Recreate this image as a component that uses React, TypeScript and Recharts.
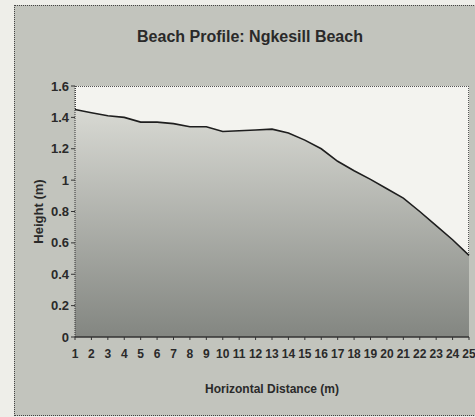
import { AreaChart, Area, XAxis, YAxis, Label } from "recharts";

// beach profile readings, 1 m apart
const distances = [
  1, 2, 3, 4, 5, 6, 7, 8, 9, 10, 11, 12, 13, 14, 15, 16, 17, 18, 19, 20, 21,
  22, 23, 24, 25,
];
const heights = [
  1.45, 1.43, 1.41, 1.4, 1.37, 1.37, 1.36, 1.34, 1.34, 1.31, 1.315, 1.32,
  1.325, 1.3, 1.255, 1.2, 1.12, 1.06, 1.005, 0.945, 0.885, 0.8, 0.71, 0.62,
  0.52,
];
const yTicks = [0, 0.2, 0.4, 0.6, 0.8, 1, 1.2, 1.4, 1.6];

const data = distances.map((d, i) => ({ distance: d, height: heights[i] }));

const FONT = "'Liberation Sans Narrow', 'Liberation Sans', Arial, sans-serif";

export default function App() {
  return (
    <div
      style={{
        position: "fixed",
        left: 0,
        top: 0,
        width: 475,
        height: 417,
        background: "#eeeee9",
        overflow: "hidden",
        fontFamily: FONT,
      }}
    >
      {/* chart frame */}
      <div
        style={{
          position: "absolute",
          left: 14,
          top: 5,
          width: 470,
          height: 409,
          background: "#c2c4bd",
          border: "1px dotted #444",
        }}
      />
      {/* plot area background */}
      <div
        style={{
          position: "absolute",
          left: 75,
          top: 86,
          width: 394,
          height: 251,
          background: "#f3f3ef",
          border: "1px dotted #555",
          boxSizing: "border-box",
        }}
      />
      <div
        style={{
          position: "absolute",
          left: 0,
          top: 28,
          width: 500,
          textAlign: "center",
          fontSize: 16,
          fontWeight: "bold",
          color: "#2a2a2a",
        }}
      >
        Beach Profile: Ngkesill Beach
      </div>
      <div style={{ position: "absolute", left: 0, top: 0 }}>
        <AreaChart
          width={475}
          height={417}
          data={data}
          margin={{ top: 86, right: 6, bottom: 50, left: 25 }}
        >
          <defs>
            <linearGradient id="sand" x1="0" y1="0" x2="0" y2="1">
              <stop offset="0%" stopColor="#d8d9d3" />
              <stop offset="100%" stopColor="#838681" />
            </linearGradient>
          </defs>
          <XAxis
            dataKey="distance"
            interval={0}
            tickLine={{ stroke: "#333" }}
            tickSize={3}
            tickMargin={9}
            axisLine={{ stroke: "#333", strokeWidth: 1.5 }}
            tick={{ fill: "#2a2a2a", fontSize: 12, fontWeight: "bold", fontFamily: FONT }}
            height={30}
          >
            <Label
              value="Horizontal Distance (m)"
              position="insideBottom"
              offset={-26}
              style={{ fill: "#2a2a2a", fontSize: 12, fontWeight: "bold", fontFamily: FONT }}
            />
          </XAxis>
          <YAxis
            domain={[0, 1.6]}
            ticks={yTicks}
            interval={0}
            tickSize={4}
            tickLine={{ stroke: "#333" }}
            axisLine={{ stroke: "#333", strokeDasharray: "1 1" }}
            tick={{ fill: "#2a2a2a", fontSize: 13, fontWeight: "bold", fontFamily: FONT }}
            width={50}
          >
            <Label
              value="Height (m)"
              angle={-90}
              position="insideLeft"
              offset={13}
              style={{
                textAnchor: "middle",
                fill: "#2a2a2a",
                fontSize: 13,
                fontWeight: "bold",
                fontFamily: FONT,
              }}
            />
          </YAxis>
          <Area
            type="linear"
            dataKey="height"
            stroke="#1e1e1e"
            strokeWidth={1.6}
            fill="url(#sand)"
            fillOpacity={1}
            baseValue={0}
            isAnimationActive={false}
          />
        </AreaChart>
      </div>
    </div>
  );
}
